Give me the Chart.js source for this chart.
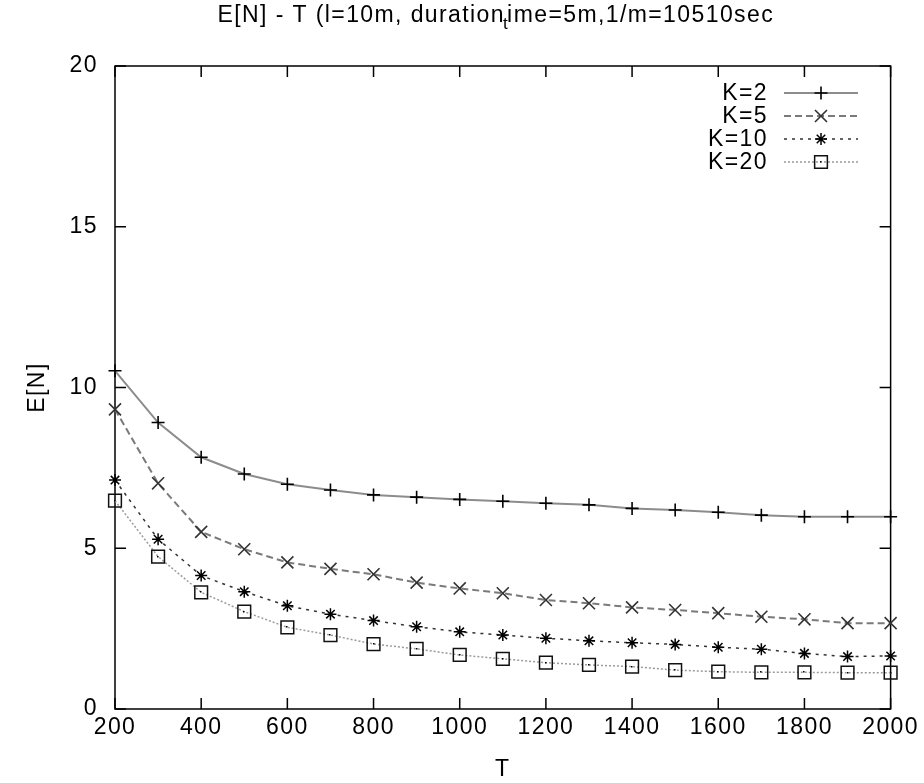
<!DOCTYPE html>
<html><head><meta charset="utf-8">
<script src="https://cdn.jsdelivr.net/npm/chart.js@4"></script>
<style>html,body{margin:0;padding:0;background:#fff}#wrap{width:924px;height:783px}</style>
</head><body><div id="wrap"><canvas id="c" width="924" height="783"></canvas></div>
<script>
const T = [200,300,400,500,600,700,800,900,1000,1100,1200,1300,1400,1500,1600,1700,1800,1900,2000];
const K2  = [10.52,8.91,7.83,7.31,6.99,6.81,6.66,6.59,6.52,6.46,6.40,6.35,6.24,6.19,6.12,6.03,5.98,5.98,5.98];
const K5  = [9.32,7.02,5.51,4.97,4.56,4.36,4.19,3.93,3.75,3.60,3.39,3.29,3.16,3.08,2.98,2.87,2.79,2.67,2.67];
const K10 = [7.12,5.28,4.15,3.65,3.21,2.95,2.75,2.56,2.40,2.30,2.20,2.12,2.06,2.01,1.92,1.86,1.73,1.63,1.65];
const K20 = [6.48,4.74,3.63,3.03,2.54,2.30,2.02,1.87,1.68,1.56,1.44,1.37,1.32,1.21,1.16,1.14,1.14,1.13,1.13];
const seriesNames = ['K=2','K=5','K=10','K=20'];
const xTicks = [200,400,600,800,1000,1200,1400,1600,1800,2000];
const yTicks = [0,5,10,15,20];
const titleMain = 'E[N] - T (l=10m, duration';
const titleSub = 't';
const titleRest = 'ime=5m,1/m=10510sec';
const xTitle = 'T';
const yTitle = 'E[N]';

const FONT = 'Liberation Sans';
const FS = 23;
const LS = '1.4px';
Chart.defaults.font.family = FONT;
Chart.defaults.font.size = FS;
Chart.defaults.color = '#000';

const styles = [
  {line:'#8c8c8c', width:2, dash:[], pt:'cross', r:6.5, pc:'#000', pw:1.6},
  {line:'#7a7a7a', width:2, dash:[7,4], pt:'crossRot', r:8.5, pc:'#333', pw:1.6},
  {line:'#333333', width:1.5, dash:[3,5], pt:'star', r:6, pc:'#000', pw:1.5},
  {line:'#9a9a9a', width:1.5, dash:[2,2], pt:'rect', r:9, pc:'#111', pw:1.5}
];
const seriesVals = [K2,K5,K10,K20];

const datasets = seriesVals.map((vals,i)=>({
  label: seriesNames[i],
  data: T.map((t,j)=>({x:t,y:vals[j]})),
  borderColor: styles[i].line,
  borderWidth: styles[i].width,
  borderDash: styles[i].dash,
  pointStyle: styles[i].pt,
  pointRadius: styles[i].r,
  pointHoverRadius: styles[i].r,
  pointBorderColor: styles[i].pc,
  pointBackgroundColor: 'rgba(0,0,0,0)',
  pointBorderWidth: styles[i].pw,
  tension: 0,
  fill: false,
  clip: false
}));

const lsPlugin = {
  id:'ls',
  beforeInit(chart){ chart.ctx.letterSpacing = LS; },
  beforeLayout(chart){ chart.ctx.letterSpacing = LS; },
  beforeDraw(chart){ chart.ctx.letterSpacing = LS; }
};

const framePlugin = {
  id:'frame',
  beforeDatasetsDraw(chart){
    const {ctx, chartArea:a, scales:{x,y}} = chart;
    ctx.save();
    ctx.strokeStyle = '#000';
    ctx.lineWidth = 1.5;
    ctx.setLineDash([]);
    ctx.strokeRect(a.left, a.top, a.right-a.left, a.bottom-a.top);
    const L = 11;
    ctx.beginPath();
    xTicks.forEach(v=>{
      const px = x.getPixelForValue(v);
      ctx.moveTo(px, a.bottom); ctx.lineTo(px, a.bottom-L);
      ctx.moveTo(px, a.top); ctx.lineTo(px, a.top+L);
    });
    yTicks.forEach(v=>{
      const py = y.getPixelForValue(v);
      ctx.moveTo(a.left, py); ctx.lineTo(a.left+L, py);
      ctx.moveTo(a.right, py); ctx.lineTo(a.right-L, py);
    });
    ctx.stroke();
    ctx.restore();
  },
  afterDatasetsDraw(chart){
    const ctx = chart.ctx;
    const meta = chart.getDatasetMeta(3);
    ctx.save();
    ctx.fillStyle = '#000';
    meta.data.forEach(p=>{ ctx.fillRect(Math.round(p.x)-1, Math.round(p.y)-1, 1.5, 1.5); });
    ctx.restore();
  },
  afterDraw(chart){
    const {ctx, chartArea:a} = chart;
    ctx.save();
    ctx.letterSpacing = LS;
    ctx.fillStyle = '#000';
    ctx.textBaseline = 'middle';
    ctx.textAlign = 'left';
    const f1 = FS + 'px "' + FONT + '"', f2 = Math.round(FS*0.72) + 'px "' + FONT + '"';
    ctx.font = f1;
    const w1 = ctx.measureText(titleMain).width;
    const w3 = ctx.measureText(titleRest).width;
    ctx.font = f2;
    const w2 = ctx.measureText(titleSub).width;
    const cx = (a.left + a.right)/2 - 5;
    let tx = cx - (w1+w2+w3)/2;
    const ty = 16;
    ctx.font = f1; ctx.fillText(titleMain, tx, ty); tx += w1;
    ctx.font = f2; ctx.fillText(titleSub, tx-2, ty+8); tx += w2-4;
    ctx.font = f1; ctx.fillText(titleRest, tx, ty);
    const textRight = 768, lx0 = 784, lx1 = 858, mx = 821;
    const rows = [93, 116, 139, 162];
    chart.data.datasets.forEach((ds,i)=>{
      const yy = rows[i];
      ctx.font = f1;
      ctx.textAlign = 'right';
      ctx.textBaseline = 'middle';
      ctx.fillStyle = '#000';
      ctx.fillText(ds.label, textRight, yy+1);
      ctx.strokeStyle = ds.borderColor;
      ctx.lineWidth = ds.borderWidth;
      ctx.setLineDash(ds.borderDash);
      ctx.beginPath(); ctx.moveTo(lx0, yy); ctx.lineTo(lx1, yy); ctx.stroke();
      ctx.setLineDash([]);
      ctx.strokeStyle = ds.pointBorderColor;
      ctx.fillStyle = 'rgba(0,0,0,0)';
      ctx.lineWidth = ds.pointBorderWidth;
      Chart.helpers.drawPoint(ctx, {pointStyle: ds.pointStyle, radius: ds.pointRadius, rotation: 0, borderWidth: ds.pointBorderWidth}, mx, yy);
      if (i === 3) { ctx.fillStyle = '#000'; ctx.fillRect(mx-1, yy-1, 1.5, 1.5); }
    });
    ctx.restore();
  }
};

const LH = FS * 1.2;
new Chart(document.getElementById('c'), {
  type: 'line',
  data: { datasets },
  options: {
    responsive: false,
    devicePixelRatio: 1,
    animation: false,
    events: [],
    layout: { padding: { top: 66, right: 33, left: 0, bottom: 0 } },
    plugins: { legend: { display: false }, title: { display: false }, tooltip: { enabled: false } },
    scales: {
      x: {
        type: 'linear', min: 200, max: 2000,
        afterBuildTicks(s){ s.ticks = xTicks.map(v=>({value:v})); },
        afterFit(s){ s.height = 74; },
        ticks: { padding: Math.max(0, Math.round(19 - LH/2)), maxRotation: 0, autoSkip: false, color:'#000', callback: v => String(v) },
        grid: { display: false, drawTicks: false },
        border: { display: false },
        title: { display: true, text: xTitle, padding: { top: 0, bottom: Math.max(0, Math.round(13 - LH/2)) }, color:'#000' }
      },
      y: {
        type: 'linear', min: 0, max: 20,
        afterBuildTicks(s){ s.ticks = yTicks.map(v=>({value:v})); },
        afterFit(s){ s.width = 115; },
        ticks: { padding: 17, color:'#000', callback: v => String(v) },
        grid: { display: false, drawTicks: false },
        border: { display: false },
        title: { display: true, text: yTitle, padding: { top: Math.round(38 - LH/2), bottom: 0 }, color:'#000' }
      }
    }
  },
  plugins: [lsPlugin, framePlugin]
});
</script>
</body></html>
